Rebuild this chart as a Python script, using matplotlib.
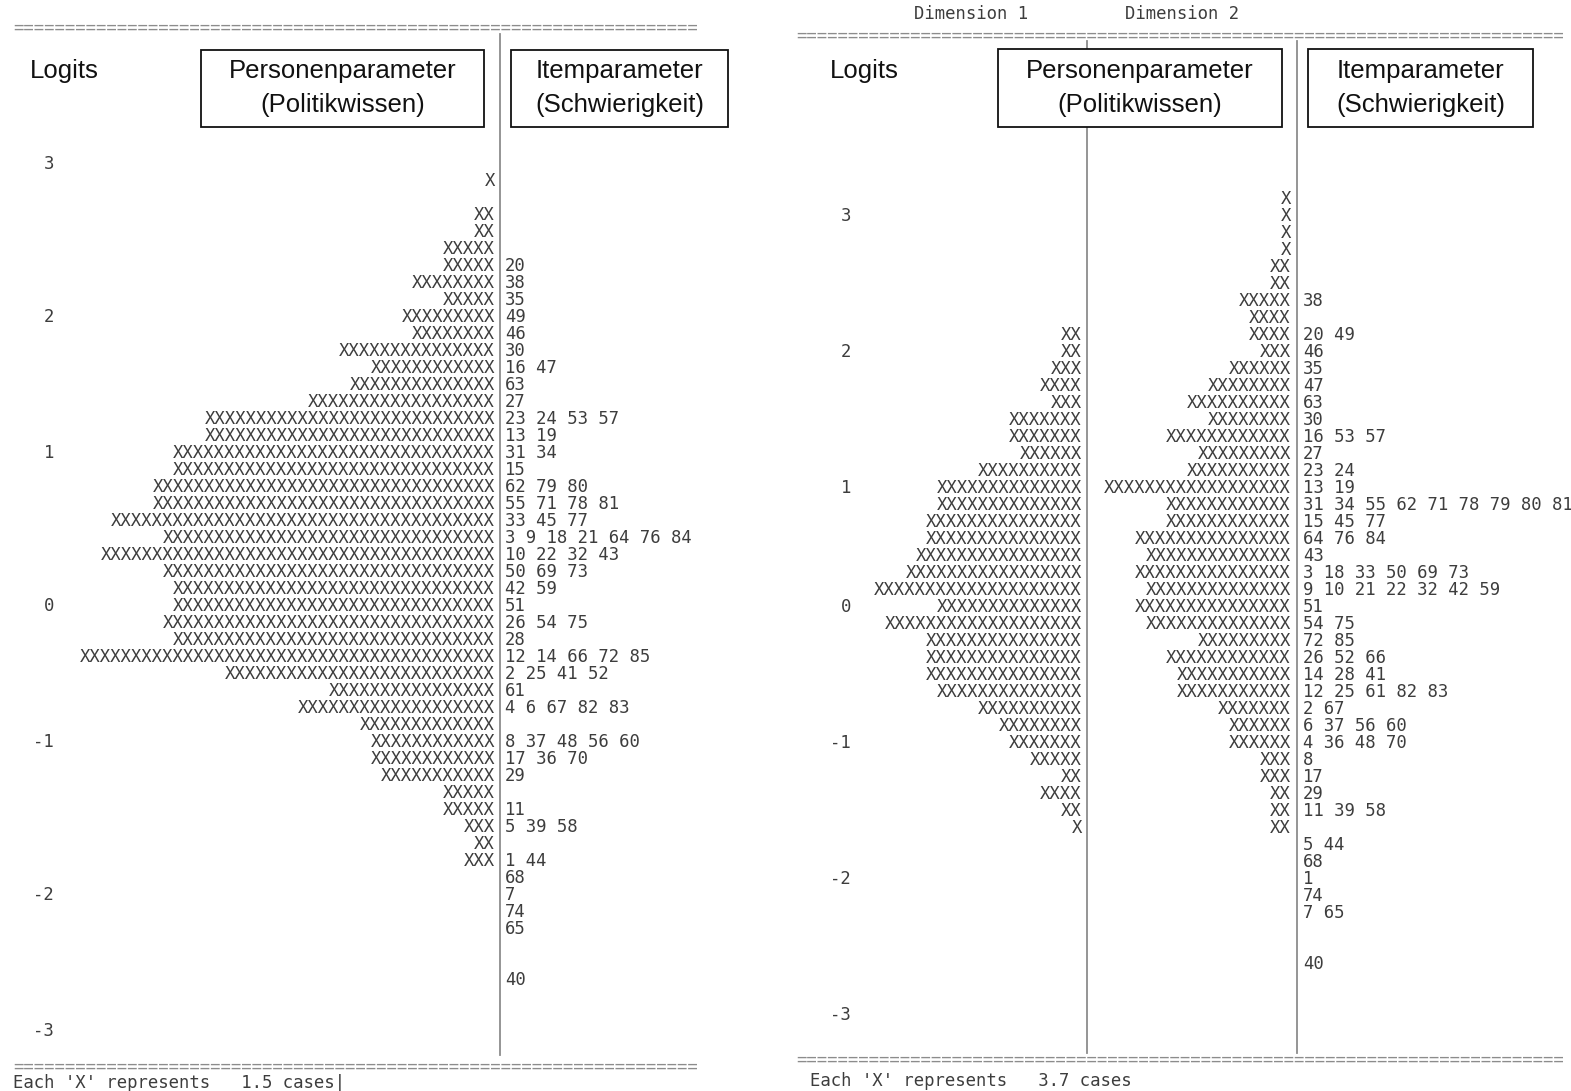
import matplotlib
matplotlib.use("Agg")
import matplotlib.pyplot as plt
from matplotlib.patches import Rectangle

W, H = 1571, 1091
CW = 10.4      # width of one character, px
RH = 17.0      # height of one printed row, px
MONO = "DejaVu Sans Mono"
SANS = "Liberation Sans"
FS = 12.45
INK = "#3d3d3d"
GREY = "#8c8c8c"

# ---------- left map (one dimension), row 0 = top row with label "3" ----------
tick_labels = ["3", "2", "1", "0", "-1", "-2", "-3"]
left_tick_rows = [0, 9, 17, 26, 34, 43, 51]
left_persons = [0, 1, 0, 2, 2, 5, 5, 8, 5, 9, 8, 15, 12, 14, 18, 28, 28, 31, 31, 33,
                33, 37, 32, 38, 32, 31, 31, 32, 31, 40, 26, 16, 19, 13, 12, 12, 11, 5,
                5, 3, 2, 3]
left_items = ["", "", "", "", "", "", "20", "38", "35", "49", "46", "30", "16 47", "63",
              "27", "23 24 53 57", "13 19", "31 34", "15", "62 79 80", "55 71 78 81",
              "33 45 77", "3 9 18 21 64 76 84", "10 22 32 43", "50 69 73", "42 59", "51",
              "26 54 75", "28", "12 14 66 72 85", "2 25 41 52", "61", "4 6 67 82 83", "",
              "8 37 48 56 60", "17 36 70", "29", "", "11", "5 39 58", "", "1 44", "68",
              "7", "74", "65", "", "", "40"]
left_scale = "1.5"

# ---------- right map (two dimensions), first row sits one row above label "3" ----------
right_first_row = -1
right_tick_rows = [0, 8, 16, 23, 31, 39, 47]
dim1_persons = [0, 0, 0, 0, 0, 0, 0, 0, 2, 2, 3, 4, 3, 7, 7, 6, 10, 14, 14, 15, 15, 16,
                17, 20, 14, 19, 15, 15, 15, 14, 10, 8, 7, 5, 2, 4, 2, 1]
dim2_persons = [1, 1, 1, 1, 2, 2, 5, 4, 4, 3, 6, 8, 10, 8, 12, 9, 10, 18, 12, 12, 15, 14,
                15, 14, 15, 14, 9, 12, 11, 11, 7, 6, 6, 3, 3, 2, 2, 2]
right_items = ["", "", "", "", "", "", "38", "", "20 49", "46", "35", "47", "63", "30",
               "16 53 57", "27", "23 24", "13 19", "31 34 55 62 71 78 79 80 81",
               "15 45 77", "64 76 84", "43", "3 18 33 50 69 73", "9 10 21 22 32 42 59",
               "51", "54 75", "72 85", "26 52 66", "14 28 41", "12 25 61 82 83", "2 67",
               "6 37 56 60", "4 36 48 70", "8", "17", "29", "11 39 58", "", "5 44", "68",
               "1", "74", "7 65", "", "", "40"]
right_scale = "3.7"

fig = plt.figure(figsize=(W / 100, H / 100), dpi=100)


def make_panel(x0, x1, pipe_x, row0_y):
    # axes in character columns (0 = item pipe) and printed rows
    ax = fig.add_axes([x0 / W, 0, (x1 - x0) / W, 1])
    ax.set_xlim((x0 - pipe_x) / CW, (x1 - pipe_x) / CW)
    ax.set_ylim((H - row0_y) / RH, -row0_y / RH)
    ax.axis("off")
    cx = lambda px: (px - pipe_x) / CW
    cy = lambda py: (py - row0_y) / RH
    return ax, cx, cy


def mono(ax, x, row, s, ha="left", color=INK):
    # baseline shifted so that the capitals are centred on the row
    ax.text(x, row + 0.37, s, ha=ha, va="baseline", family=MONO, fontsize=FS,
            color=color, zorder=2, clip_on=False)


def header(ax, cx, cy, logits_xy, boxes):
    ax.text(cx(logits_xy[0]), cy(logits_xy[1]), "Logits", family=SANS, fontsize=18.5,
            ha="left", va="center", color="#111111")
    for (xa, xb, ya, yb, l1, l2) in boxes:
        ax.add_patch(Rectangle((cx(xa), cy(ya)), cx(xb) - cx(xa), cy(yb) - cy(ya),
                               facecolor="white", edgecolor="#111111", lw=1.3, zorder=3))
        xm = cx((xa + xb) / 2)
        ym = (ya + yb) / 2
        ax.text(xm, cy(ym - 17), l1, family=SANS, fontsize=18.5, ha="center",
                va="center", color="#111111", zorder=4)
        ax.text(xm, cy(ym + 17), l2, family=SANS, fontsize=18.5, ha="center",
                va="center", color="#111111", zorder=4)


# ---------------- left panel ----------------
ax1, cx1, cy1 = make_panel(0, 785, 499.6, 163)
mono(ax1, cx1(13), cy1(26), "=" * 66, color=GREY)
mono(ax1, cx1(13), cy1(1065), "=" * 66, color=GREY)
ax1.plot([0, 0], [cy1(34), cy1(1055)], color=GREY, lw=1.3, zorder=1)
header(ax1, cx1, cy1, (30, 71),
       [(201, 484, 50, 127, "Personenparameter", "(Politikwissen)"),
        (511, 728, 50, 127, "Itemparameter", "(Schwierigkeit)")])
for r, lab in zip(left_tick_rows, tick_labels):
    mono(ax1, cx1(54), r, lab, ha="right")
for r, n in enumerate(left_persons):
    if n:
        mono(ax1, -0.45, r, "X" * n, ha="right")
for r, s in enumerate(left_items):
    if s:
        mono(ax1, 0.5, r, s)
mono(ax1, cx1(13), cy1(1082), "Each 'X' represents   " + left_scale + " cases|")

# ---------------- right panel ----------------
ax2, cx2, cy2 = make_panel(785, W, 1297, 215)
dim1_x = cx2(1087)
mono(ax2, cx2(914), cy2(13), "Dimension 1")
mono(ax2, cx2(1125), cy2(13), "Dimension 2")
mono(ax2, cx2(796), cy2(34), "=" * 74, color=GREY)
mono(ax2, cx2(796), cy2(1058), "=" * 74, color=GREY)
for xp in (dim1_x, 0):
    ax2.plot([xp, xp], [cy2(41), cy2(1053)], color=GREY, lw=1.3, zorder=1)
header(ax2, cx2, cy2, (830, 71),
       [(998, 1282, 49, 127, "Personenparameter", "(Politikwissen)"),
        (1308, 1533, 49, 127, "Itemparameter", "(Schwierigkeit)")])
for r, lab in zip(right_tick_rows, tick_labels):
    mono(ax2, cx2(851), r, lab, ha="right")
for i, (n1, n2) in enumerate(zip(dim1_persons, dim2_persons)):
    r = right_first_row + i
    if n1:
        mono(ax2, dim1_x - 0.5, r, "X" * n1, ha="right")
    if n2:
        mono(ax2, -0.6, r, "X" * n2, ha="right")
for i, s in enumerate(right_items):
    if s:
        mono(ax2, 0.6, right_first_row + i, s)
mono(ax2, cx2(810), cy2(1080), "Each 'X' represents   " + right_scale + " cases")

fig.savefig("out.png", dpi=100, facecolor="white")
